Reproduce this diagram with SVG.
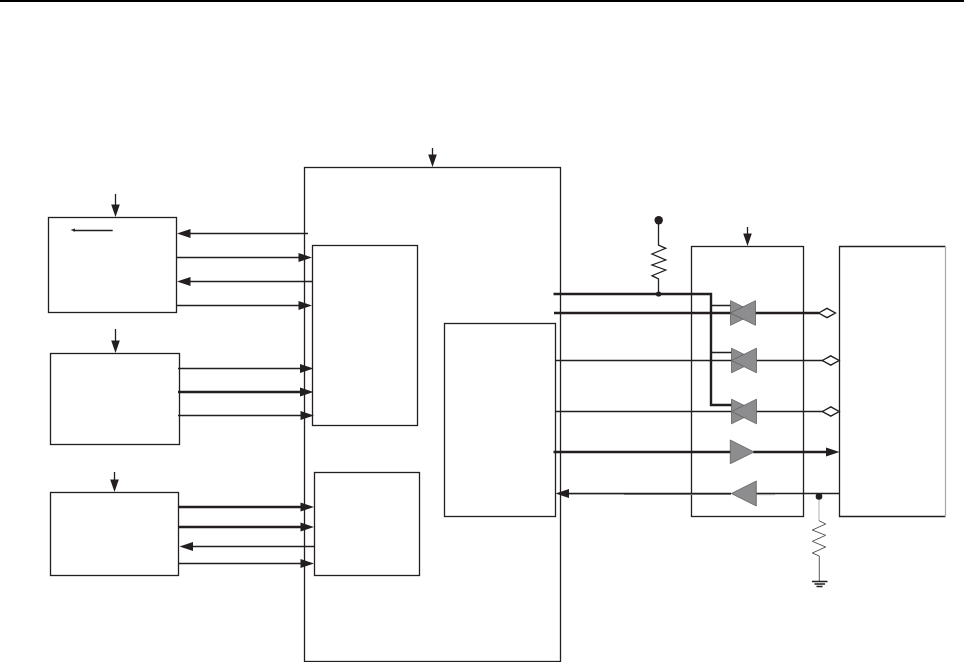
<svg xmlns="http://www.w3.org/2000/svg" width="964" height="662" viewBox="0 0 964 662">
<style>
.box{fill:none;stroke:#231f20;stroke-width:1.3}
.w{fill:none;stroke:#231f20;stroke-width:1.3}
.t{fill:none;stroke:#231f20;stroke-width:2.4}
.g{fill:none;stroke:#cfcfcf;stroke-width:1.6}
.h{fill:#231f20;stroke:none}
.v{fill:#8d8d8f;stroke:#5f5f61;stroke-width:.8}
.d{fill:#fff;stroke:#231f20;stroke-width:1.4}
</style>
<defs>
<path id="hr" class="h" d="M0 0L-13.5 -4.6L-13.5 4.6Z"/>
<path id="hl" class="h" d="M0 0L13.5 -4.6L13.5 4.6Z"/>
<path id="hd" class="h" d="M0 0L-4.3 -12.5L4.3 -12.5Z"/>
<g id="bow"><path class="v" d="M0 -12.3L25 0L0 12.3Z"/><path class="v" d="M25 -12.3L0 0L25 12.3Z"/></g>
<path id="dia" class="d" d="M-8.4 0L0 -4.7L8.4 0L0 4.7Z"/>
</defs>
<rect x="0" y="0" width="964" height="2" fill="#000"/>
<g id="main"><rect class="box" x="304.5" y="167.5" width="256" height="494"/></g>
<g id="block1"><rect class="box" x="48.5" y="217.5" width="128" height="95"/></g>
<g id="block2"><rect class="box" x="50.5" y="353.5" width="129" height="91"/></g>
<g id="block3"><rect class="box" x="50.5" y="492.5" width="128" height="83"/></g>
<g id="innerA"><rect class="box" x="312.5" y="245.5" width="105" height="180"/></g>
<g id="innerB"><rect class="box" x="314.5" y="472.5" width="105" height="103"/></g>
<g id="innerC"><rect class="box" x="444.5" y="323.5" width="111" height="193"/></g>
<g id="bufferBox"><rect class="box" x="691.5" y="246.5" width="112" height="270"/></g>
<g id="rightBox">
<path class="box" d="M945.5 246.5H839.5V516.5H945.5"/>
<path d="M945.5 246V517" fill="none" stroke="#a9a9a9" stroke-width="1.2"/>
</g>
<g id="connectors">
<path class="w" d="M115.5 194V206"/><use href="#hd" x="115.5" y="217"/>
<path class="w" d="M115.5 329V342"/><use href="#hd" x="115.5" y="353"/>
<path class="w" d="M114.5 472V482"/><use href="#hd" x="114.5" y="492"/>
<path class="w" d="M432.5 148V157"/><use href="#hd" x="432.5" y="167"/>
<path class="w" d="M747.5 227V236"/><use href="#hd" x="747.5" y="246"/>

<path class="w" d="M308 233.5H188"/><use href="#hl" x="177" y="233.5"/>
<path class="w" d="M176.5 257.5H300"/><use href="#hr" x="312" y="257.5"/>
<path class="w" d="M312.5 281.5H188"/><use href="#hl" x="177" y="281.5"/>
<path class="w" d="M176.5 305.5H300"/><use href="#hr" x="312" y="305.5"/>
<path class="w" d="M112.7 230.5H73"/><path class="h" d="M70.5 230L75 228.4V231.6Z"/>

<path class="w" d="M178 368.5H302"/><use href="#hr" x="313.5" y="368.5"/>
<path class="t" d="M178 392H302"/><use href="#hr" x="313.5" y="392"/>
<path class="w" d="M178 415.5H302"/><use href="#hr" x="314" y="415.5"/>

<path class="t" d="M179 507H303"/><use href="#hr" x="314" y="507"/>
<path class="t" d="M178.5 527H303"/><use href="#hr" x="314" y="527"/>
<path class="w" d="M314.5 546.5H191"/><use href="#hl" x="179.5" y="546.5"/>
<path class="w" d="M178.5 563.5H302"/><use href="#hr" x="314" y="563.5"/>

<path class="t" d="M553.5 294H711V405H732"/>
<path class="t" d="M554 313H731"/>
<path class="t" d="M755 313H819"/>
<path class="w" d="M711 305.5H731M711 352.5H732"/>
<path class="w" d="M555 360.5H732M756 360.5H823"/>
<path class="w" d="M555.5 411.5H732M756 411.5H823"/>
<path class="t" d="M553.5 452H731M753 452H828"/><use href="#hr" x="839.5" y="452"/>
<path class="g" d="M568 494H624M756 494.5H775"/>
<path d="M624 494.3H731" fill="none" stroke="#8f8f8f" stroke-width="1.5"/>
<path class="w" d="M839 493.5H756M731 493.5H566"/><use href="#hl" x="555.5" y="493.5"/>
</g>
<g id="bowtie1"><use href="#bow" x="730.5" y="313"/></g>
<g id="bowtie2"><use href="#bow" x="731.5" y="360.5"/></g>
<g id="bowtie3"><use href="#bow" x="731.5" y="411.5"/></g>
<g id="buffer1"><path class="v" d="M730.3 440L754 452L730.3 463.7Z"/></g>
<g id="buffer2"><path class="v" d="M756.3 481L731.3 493.5L756.3 506Z"/></g>
<g id="pads">
<use href="#dia" x="827" y="313"/>
<use href="#dia" x="830.7" y="360.5"/>
<use href="#dia" x="830.8" y="411.5"/>
</g>
<g id="pullup">
<circle cx="658.7" cy="220.3" r="4.2" fill="#231f20"/>
<path class="w" d="M658.5 224V245L665.7 248.3L652 254L665.7 260L652 265L665.7 270L652 275.7L658.5 279V294"/>
<circle cx="658.6" cy="294" r="2.6" fill="#231f20"/>
</g>
<g id="pulldown">
<path class="g" d="M819 499V520.7"/>
<circle cx="819" cy="496.4" r="3.3" fill="#231f20"/>
<path d="M819 520.7L825.7 524L812.3 530L825.7 535.3L812.3 541.3L825.7 547L812.3 553L819.3 556V581.7" fill="none" stroke="#5a5a5a" stroke-width="1"/>
<path class="w" d="M812 581.5H827.5M814.5 584H825M816.5 586.5H822.5"/>
</g>
</svg>
